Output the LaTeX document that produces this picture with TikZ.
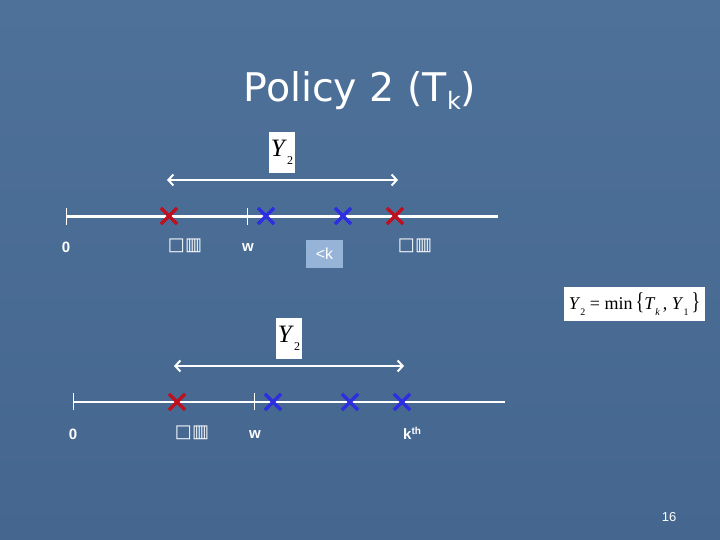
\documentclass[tikz,border=0pt]{standalone}
\usepackage{fontspec}
\setmainfont{Liberation Serif}
\setsansfont{Liberation Sans}
\newfontfamily\titlefont{DejaVu Sans}
\newfontfamily\symfont{DejaVu Sans}
\usetikzlibrary{arrows.meta,shapes.misc}
\definecolor{bgblue}{RGB}{78,113,154}
\definecolor{bgdark}{RGB}{68,102,143}
\definecolor{xred}{RGB}{190,16,30}
\definecolor{xblue}{RGB}{45,45,225}
\definecolor{kbox}{RGB}{150,180,215}
\newcommand{\ysub}[3]{\textit{#1}\raisebox{-0.3em}{\fontsize{#3}{#3}\selectfont #2}}
\tikzset{
  tline/.style={draw=white,line width=2.6pt},
  tickmark/.style={draw=white,line width=0.8pt},
  xmark/.style={cross out,draw=#1,line width=3.2pt,minimum size=13pt,inner sep=0pt},
  span/.style={draw=white,line width=2pt,{Straight Barb[length=5pt,width=11pt,line width=2pt]}-{Straight Barb[length=5pt,width=11pt,line width=2pt]}},
  lab/.style={font=\sffamily\bfseries\fontsize{15}{15}\selectfont,text=white,inner sep=0pt},
  tofu/.style={font=\symfont\bfseries\fontsize{18}{18}\selectfont,text=white,inner sep=0pt},
  wbox/.style={fill=white,inner sep=0pt,text=black,font=\fontsize{25}{25}\selectfont}
}
\begin{document}
\begin{tikzpicture}[x=1pt,y=1pt]
\useasboundingbox (0,0) rectangle (720,-540);
\shade[top color=bgblue,bottom color=bgdark] (0,0) rectangle (720,-540);
% title
\node[text=white,font=\titlefont\fontsize{39.5}{39.5}\selectfont,inner sep=0pt,anchor=base] (title) at (360,-102) {Policy 2 (T\raisebox{-8pt}{\fontsize{24}{24}\selectfont k})};
% ===== top diagram =====
\node[wbox,minimum width=26pt,minimum height=41pt] (ya) at (282,-152.5) {\ysub{Y}{2}{12}};
\coordinate (aL) at (167,-180);
\coordinate (aR) at (398,-180);
\draw[span] (aL) -- (aR);
\coordinate (t0) at (66,-216.5);
\coordinate (t1) at (498,-216.5);
\draw[tline] (t0) -- (t1);
\coordinate (w0a) at (66,-208); \coordinate (w0b) at (66,-225);
\draw[tickmark] (w0a) -- (w0b);
\coordinate (w1a) at (247,-208); \coordinate (w1b) at (247,-225);
\draw[tickmark] (w1a) -- (w1b);
\node[xmark=xred] (ra1) at (169,-216) {};
\node[xmark=xblue] (ba1) at (266,-216) {};
\node[xmark=xblue] (ba2) at (343,-216) {};
\node[xmark=xred] (ra2) at (395,-216) {};
\node[lab] (l0a) at (66,-247) {0};
\node[tofu] (qa1) at (185,-246) {□▥};
\node[lab] (lwa) at (248,-248) {w};
\node[fill=kbox,minimum width=37pt,minimum height=28pt,inner sep=0pt,text=white,font=\sffamily\fontsize{16}{16}\selectfont] (lk) at (324.5,-254) {<k};
\node[tofu] (qa2) at (415,-246) {□▥};
% formula
\node[wbox,minimum width=141pt,minimum height=34pt,font=\fontsize{18}{18}\selectfont] (fm) at (634.5,-304) {\ysub{Y}{2}{10} = min\,\scalebox{1}[1.35]{\{}\ysub{T}{\textit{k}}{10}\,, \ysub{Y}{1}{10}\,\scalebox{1}[1.35]{\}}};
% ===== bottom diagram =====
\node[wbox,minimum width=26pt,minimum height=41pt] (yb) at (289,-338.5) {\ysub{Y}{2}{12}};
\coordinate (bL) at (174,-366);
\coordinate (bR) at (404,-366);
\draw[span] (bL) -- (bR);
\coordinate (s0) at (73,-402);
\coordinate (s1) at (505,-402);
\draw[tline] (s0) -- (s1);
\coordinate (v0a) at (73,-393); \coordinate (v0b) at (73,-410);
\draw[tickmark] (v0a) -- (v0b);
\coordinate (v1a) at (254,-393); \coordinate (v1b) at (254,-410);
\draw[tickmark] (v1a) -- (v1b);
\node[xmark=xred] (rb1) at (177,-402) {};
\node[xmark=xblue] (bb1) at (273,-402) {};
\node[xmark=xblue] (bb2) at (350,-402) {};
\node[xmark=xblue] (bb3) at (402,-402) {};
\node[lab] (l0b) at (73,-434) {0};
\node[tofu] (qb1) at (192,-433) {□▥};
\node[lab] (lwb) at (255,-435) {w};
\node[lab,anchor=west] (lkth) at (403,-433) {k\raisebox{5pt}{\fontsize{10}{10}\selectfont th}};
% slide number
\node[text=white,font=\sffamily\fontsize{13}{13}\selectfont,inner sep=0pt] (pg) at (669,-517) {16};
\end{tikzpicture}
\end{document}
